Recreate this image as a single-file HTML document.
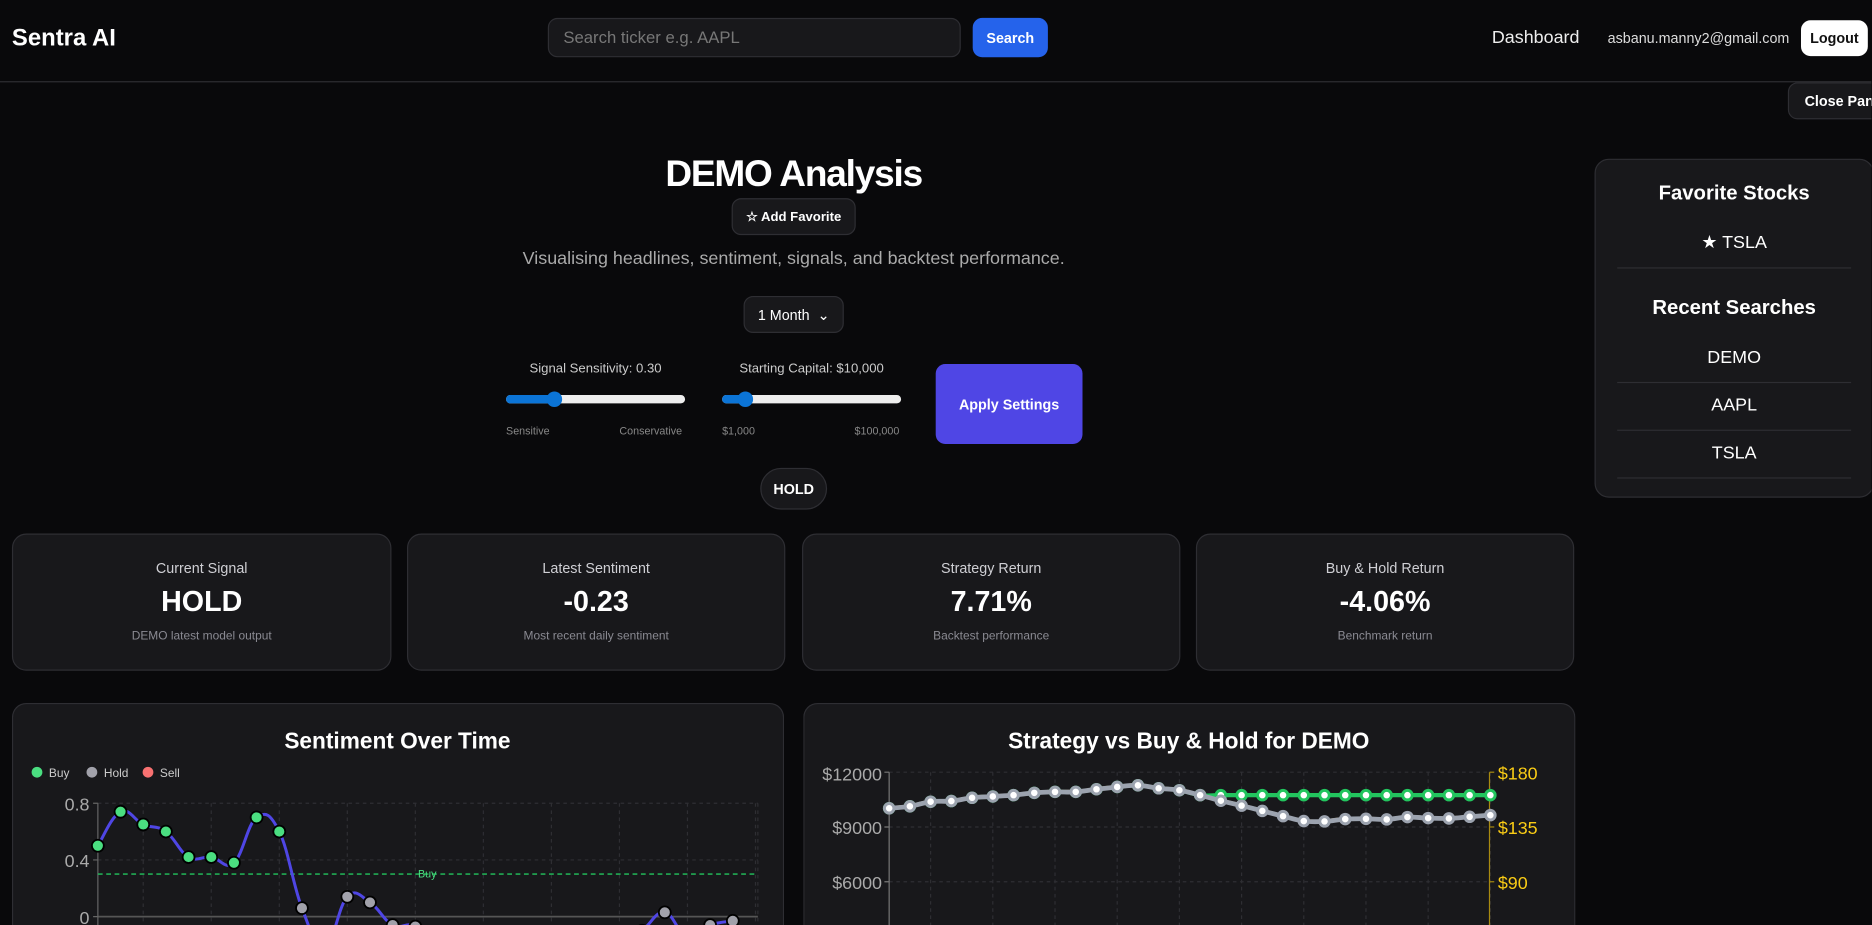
<!DOCTYPE html>
<html><head><meta charset="utf-8"><title>Sentra AI - DEMO Analysis</title>
<style>
html,body{margin:0;padding:0;background:#09090b;overflow:hidden;width:1872px;height:925px}
#wrap{position:absolute;left:0;top:0;width:1568px;height:775px;overflow:hidden;transform:scale(1.1935);transform-origin:0 0;font-family:"Liberation Sans",sans-serif;color:#fff}
.abs{position:absolute}
.card{position:absolute;background:#18181b;border:1px solid #2e2e33;border-radius:12px;box-sizing:border-box}
.btn{position:absolute;box-sizing:border-box;border-radius:8px;font-weight:bold;display:flex;align-items:center;justify-content:center}
.stat{text-align:center}
.stat .l{position:absolute;left:0;right:0;top:21px;font-size:12px;color:#cfcfd4}
.stat .v{position:absolute;left:0;right:0;top:43px;font-size:24px;font-weight:bold}
.stat .s{position:absolute;left:0;right:0;top:80px;font-size:10px;color:#8a8a92}
.side-item{position:absolute;left:18px;right:18px;height:40px;border-bottom:1px solid #2e2e33;text-align:center;font-size:15px;line-height:40px}
</style></head><body>
<div id="wrap">
 <div class="abs" style="left:0;top:0;width:1568px;height:68px;border-bottom:1px solid #2e2e33"></div>
 <div class="abs" style="left:10px;top:21px;font-size:20px;font-weight:bold">Sentra AI</div>
 <div class="abs" style="left:459px;top:15px;width:346px;height:33px;box-sizing:border-box;background:#18181b;border:1px solid #2e2e33;border-radius:8px;color:#777;font-size:14px;line-height:31px;padding-left:12px">Search ticker e.g. AAPL</div>
 <div class="btn" style="left:815px;top:15px;width:63px;height:33px;background:#2563eb;font-size:12px">Search</div>
 <div class="abs" style="left:1250px;top:23px;font-size:15px;color:#eee">Dashboard</div>
 <div class="abs" style="left:1347px;top:25px;font-size:12px;color:#ddd">asbanu.manny2@gmail.com</div>
 <div class="btn" style="left:1509px;top:17px;width:56px;height:30px;background:#fff;color:#111;font-size:12px">Logout</div>
 <div class="btn" style="left:1498px;top:69px;width:90px;height:31px;background:#18181b;border:1px solid #2e2e33;font-size:12px;justify-content:flex-start;padding-left:13px">Close Panel</div>

 <div class="abs" style="left:465px;width:400px;top:128px;text-align:center;font-size:31px;font-weight:bold;letter-spacing:-1px">DEMO Analysis</div>
 <div class="btn" style="left:613px;top:166px;width:104px;height:31px;background:#18181b;border:1px solid #2e2e33;font-size:11px">☆ Add Favorite</div>
 <div class="abs" style="left:365px;width:600px;top:208px;text-align:center;font-size:15px;color:#aaa">Visualising headlines, sentiment, signals, and backtest performance.</div>
 <div class="btn" style="left:623px;top:248px;width:84px;height:31px;background:#18181b;border:1px solid #2e2e33;font-size:12px;font-weight:normal">1 Month&nbsp;&nbsp;⌄</div>

 <div class="abs" style="left:424px;width:150px;top:303px;text-align:center;font-size:11px;color:#ccc">Signal Sensitivity: 0.30</div>
 <div class="abs" style="left:424px;top:331px;width:150px;height:7px;background:#eee;border-radius:4px">
  <div class="abs" style="left:0;top:0;width:42px;height:7px;background:#0b74d6;border-radius:4px"></div>
  <div class="abs" style="left:34px;top:-3px;width:13px;height:13px;background:#0b74d6;border-radius:50%"></div></div>
 <div class="abs" style="left:424px;top:356px;font-size:9px;color:#888">Sensitive</div>
 <div class="abs" style="left:519px;top:356px;font-size:9px;color:#888">Conservative</div>
 <div class="abs" style="left:595px;width:170px;top:303px;text-align:center;font-size:11px;color:#ccc">Starting Capital: $10,000</div>
 <div class="abs" style="left:605px;top:331px;width:150px;height:7px;background:#eee;border-radius:4px">
  <div class="abs" style="left:0;top:0;width:22px;height:7px;background:#0b74d6;border-radius:4px"></div>
  <div class="abs" style="left:13px;top:-3px;width:13px;height:13px;background:#0b74d6;border-radius:50%"></div></div>
 <div class="abs" style="left:605px;top:356px;font-size:9px;color:#888">$1,000</div>
 <div class="abs" style="left:716px;top:356px;font-size:9px;color:#888">$100,000</div>
 <div class="btn" style="left:784px;top:305px;width:123px;height:67px;background:#4f46e5;font-size:12px">Apply Settings</div>
 <div class="btn" style="left:637px;top:392px;width:56px;height:35px;border-radius:18px;background:#18181b;border:1px solid #2e2e33;font-size:12px">HOLD</div>

 <div class="card stat" style="left:10px;top:447px;width:318px;height:115px"><div class="l">Current Signal</div><div class="v">HOLD</div><div class="s">DEMO latest model output</div></div>
 <div class="card stat" style="left:341px;top:447px;width:317px;height:115px"><div class="l">Latest Sentiment</div><div class="v">-0.23</div><div class="s">Most recent daily sentiment</div></div>
 <div class="card stat" style="left:672px;top:447px;width:317px;height:115px"><div class="l">Strategy Return</div><div class="v">7.71%</div><div class="s">Backtest performance</div></div>
 <div class="card stat" style="left:1002px;top:447px;width:317px;height:115px"><div class="l">Buy &amp; Hold Return</div><div class="v">-4.06%</div><div class="s">Benchmark return</div></div>

 <div class="card" style="left:1336px;top:133px;width:234px;height:284px">
  <div class="abs" style="left:0;right:0;top:18px;text-align:center;font-size:17px;font-weight:bold">Favorite Stocks</div>
  <div class="side-item" style="top:50px">★ TSLA</div>
  <div class="abs" style="left:0;right:0;top:114px;text-align:center;font-size:17px;font-weight:bold">Recent Searches</div>
  <div class="side-item" style="top:146px">DEMO</div>
  <div class="side-item" style="top:186px">AAPL</div>
  <div class="side-item" style="top:226px">TSLA</div>
 </div>

 <div class="card" style="left:10px;top:589px;width:647px;height:186px;overflow:hidden;border-bottom:none;border-radius:12px 12px 0 0">
  <svg id="sent" width="647" height="186" style="position:absolute;left:-1px;top:-1px">
   <g id="sg" transform="translate(-10,-589)"></g></svg>
 </div>
 <div class="card" style="left:673px;top:589px;width:647px;height:186px;overflow:hidden;border-bottom:none;border-radius:12px 12px 0 0">
  <svg id="strat" width="647" height="186" style="position:absolute;left:-1px;top:-1px">
   <g id="tg" transform="translate(-673,-589)"></g></svg>
 </div>
</div>
<script>
const sentDays = Array.from({length:29},(_,i)=>'D'+(i+1));
const sentValues = [0.50,0.74,0.65,0.60,0.42,0.42,0.38,0.70,0.60,0.06,-0.22,0.14,0.10,-0.06,-0.07,-0.25,-0.35,-0.30,-0.20,-0.28,-0.32,-0.25,-0.18,-0.22,-0.10,0.03,-0.15,-0.06,-0.03];
const sentTicks = [0.8,0.4,0];
const buyThreshold = 0.3;

const stratDays = Array.from({length:30},(_,i)=>'D'+(i+1));
const strategyValues = [10024,10132,10384,10420,10599,10671,10743,10869,10922,10922,11066,11192,11282,11120,11012,10743,10743,10743,10743,10743,10743,10743,10743,10743,10743,10743,10743,10743,10743,10743];
const buyHoldValues = [10024,10132,10384,10420,10599,10671,10743,10869,10922,10922,11066,11192,11282,11120,11012,10743,10437,10168,9881,9593,9324,9306,9432,9450,9414,9540,9486,9468,9558,9647];
const priceValues = [151.2,152.8,156.6,157.1,159.8,160.9,161.9,163.8,164.6,164.6,166.8,168.7,170.0,167.6,166.0,161.9,157.4,153.3,149.0,144.7,140.6,140.4,142.3,142.5,142.0,143.9,143.1,142.8,144.2,145.5];
const leftTicks = [12000,9000,6000,3000];
const rightTicks = [180,135,90,45];

const NS='http://www.w3.org/2000/svg';
function mk(parent,tag,attrs,name,text){const e=document.createElementNS(NS,tag);for(const k in attrs)e.setAttribute(k,attrs[k]);
 
 
 if(text!==undefined)e.textContent=text;parent.appendChild(e);return e;}
function spline(pts){let d='M'+pts[0][0]+','+pts[0][1];for(let i=0;i<pts.length-1;i++){const p0=pts[i-1]||pts[i],p1=pts[i],p2=pts[i+1],p3=pts[i+2]||p2;const t=0.2;
 d+=' C'+(p1[0]+(p2[0]-p0[0])*t)+','+(p1[1]+(p2[1]-p0[1])*t)+' '+(p2[0]-(p3[0]-p1[0])*t)+','+(p2[1]-(p3[1]-p1[1])*t)+' '+p2[0]+','+p2[1];}return d;}

(function(){
 const g=document.getElementById('sg');
 const x0=82,dx=19,xr=635;
 const sx=i=>x0+i*dx, sy=v=>768-v*118.75;
 mk(g,'text',{x:333,y:627,'text-anchor':'middle','font-size':19,'font-weight':'bold',fill:'#fff','font-family':'Liberation Sans'},'chart-title','Sentiment Over Time');
 const leg=[['Buy','#4ade80',31],['Hold','#a1a1aa',77],['Sell','#f87171',124]];
 leg.forEach(l=>{mk(g,'circle',{cx:l[2],cy:647,r:4.5,fill:l[1]},'legend-dot-'+l[0].toLowerCase());
  mk(g,'text',{x:l[2]+10,y:651,'font-size':10,fill:'#ccc'},'legend-entry-'+l[0].toLowerCase(),l[0]);});
 for(let i=2;i<=29;i+=3){if(x0+i*dx>xr+1)break;mk(g,'line',{x1:sx(i),x2:sx(i),y1:673,y2:800,stroke:'#2e2e33','stroke-dasharray':'3 3'},'x-grid-line');}
 mk(g,'line',{x1:xr,x2:xr,y1:673,y2:800,stroke:'#2e2e33','stroke-dasharray':'3 3'},'x-grid-line');
 sentTicks.forEach(t=>{mk(g,'line',{x1:x0,x2:xr,y1:sy(t),y2:sy(t),stroke:t===0?'#555':'#2e2e33','stroke-width':t===0?1.5:1,'stroke-dasharray':t===0?'none':'3 3'},'y-grid-line');
  mk(g,'line',{x1:x0-4,x2:x0,y1:sy(t),y2:sy(t),stroke:'#666'},'y-tick');
  mk(g,'text',{x:x0-7,y:sy(t)+6,'text-anchor':'end','font-size':15,fill:'#aaa'},'y-tick-label',String(t));});
 mk(g,'line',{x1:x0,x2:x0,y1:673,y2:800,stroke:'#666'},'y-axis');
 mk(g,'line',{x1:x0,x2:xr,y1:sy(buyThreshold),y2:sy(buyThreshold),stroke:'#22c55e','stroke-dasharray':'4 3','stroke-width':1.2},'buy-threshold-line');
 mk(g,'text',{x:358,y:sy(buyThreshold)+3,'text-anchor':'middle','font-size':9,fill:'#4ade80'},'buy-threshold-label','Buy');
 const pts=sentValues.map((v,i)=>[sx(i),sy(v)]);
 mk(g,'path',{d:spline(pts),fill:'none',stroke:'#4f46e5','stroke-width':2.5},'sentiment-line');
 sentValues.forEach((v,i)=>{const c=v>=buyThreshold?'#4ade80':(v<=-buyThreshold?'#f87171':'#a1a1aa');
  mk(g,'circle',{cx:sx(i),cy:sy(v),r:5,fill:c,stroke:'#000','stroke-width':1.5},'sentiment-point-'+sentDays[i]);});
})();

(function(){
 const g=document.getElementById('tg');
 const x0=745,dx=17.37,xr=1248;
 const sx=i=>x0+i*dx, ly=v=>647+(12000-v)*45.9/3000, ry=v=>647+(180-v)*45.9/45;
 mk(g,'text',{x:996,y:627,'text-anchor':'middle','font-size':19,'font-weight':'bold',fill:'#fff','font-family':'Liberation Sans'},'chart-title','Strategy vs Buy & Hold for DEMO');
 for(let i=2;i<30;i+=3)mk(g,'line',{x1:sx(i),x2:sx(i),y1:647,y2:800,stroke:'#2e2e33','stroke-dasharray':'3 3'},'x-grid-line');
 leftTicks.forEach(t=>{mk(g,'line',{x1:x0,x2:xr,y1:ly(t),y2:ly(t),stroke:'#2e2e33','stroke-dasharray':'3 3'},'y-grid-line');
  mk(g,'line',{x1:x0-4,x2:x0,y1:ly(t),y2:ly(t),stroke:'#777'},'left-tick');
  mk(g,'text',{x:x0-6,y:ly(t)+6+(t===12000?1:0),'text-anchor':'end','font-size':15,fill:'#aaa'},'left-tick-label','$'+t);});
 rightTicks.forEach(t=>{mk(g,'line',{x1:xr,x2:xr+4,y1:ry(t),y2:ry(t),stroke:'#a88a10'},'right-tick');
  mk(g,'text',{x:xr+7,y:ry(t)+6,'font-size':15,fill:'#facc15'},'right-tick-label','$'+t);});
 mk(g,'line',{x1:x0,x2:x0,y1:647,y2:800,stroke:'#777'},'left-axis');
 mk(g,'line',{x1:xr,x2:xr,y1:647,y2:800,stroke:'#a88a10'},'right-axis');
 mk(g,'path',{d:spline(priceValues.map((v,i)=>[sx(i),ry(v)])),fill:'none',stroke:'#eab308','stroke-width':2},'price-line');
 mk(g,'path',{d:spline(strategyValues.map((v,i)=>[sx(i),ly(v)])),fill:'none',stroke:'#22c55e','stroke-width':3.5},'strategy-line');
 strategyValues.forEach((v,i)=>mk(g,'circle',{cx:sx(i),cy:ly(v),r:4,fill:'#fff',stroke:'#22c55e','stroke-width':2.5},'strategy-point-'+stratDays[i]));
 mk(g,'path',{d:spline(buyHoldValues.map((v,i)=>[sx(i),ly(v)])),fill:'none',stroke:'#9ca3af','stroke-width':4},'buy-hold-line');
 buyHoldValues.forEach((v,i)=>mk(g,'circle',{cx:sx(i),cy:ly(v),r:4,fill:'#fff',stroke:'#9ca3af','stroke-width':2.5},'buy-hold-point-'+stratDays[i]));
})();
</script>
</body></html>
